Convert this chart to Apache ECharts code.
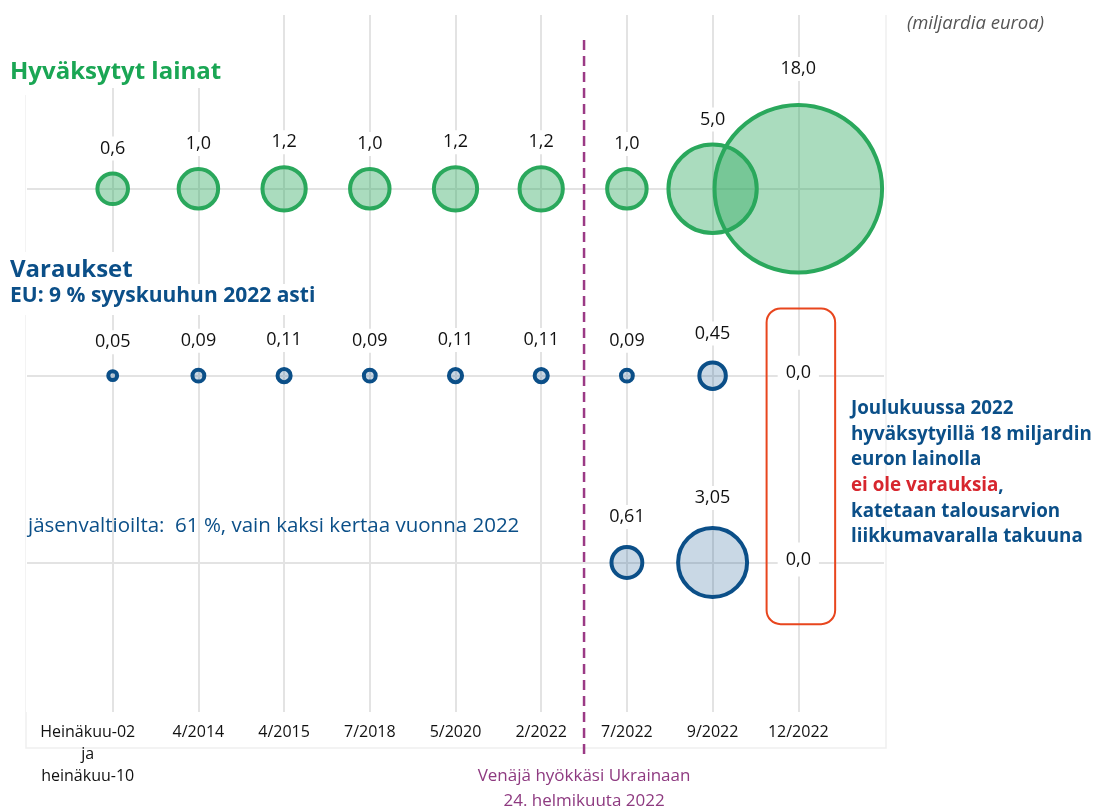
<!DOCTYPE html>
<html>
<head>
<meta charset="utf-8">
<script src="https://cdn.jsdelivr.net/npm/echarts@6/dist/echarts.min.js"></script>
<style>
  html, body { margin: 0; padding: 0; background: #fff; }
  #main { width: 1099px; height: 810px; }
</style>
</head>
<body>
<div id="main"></div>
<script>
// aineisto
var categories = ['Heinäkuu-02\nja\nheinäkuu-10', '4/2014', '4/2015', '7/2018', '5/2020', '2/2022', '7/2022', '9/2022', '12/2022'];
var loans = [0.6, 1.0, 1.2, 1.0, 1.2, 1.2, 1.0, 5.0, 18.0];
var euReserves = [0.05, 0.09, 0.11, 0.09, 0.11, 0.11, 0.09, 0.45, 0.0];
var memberReserves = [null, null, null, null, null, null, 0.61, 3.05, 0.0];
var rowY = { loans: 3, eu: 2, member: 1 };

var FONT = 'Open Sans';
var GREEN = '#2aa85c';
var BLUE = '#0b4f88';
var SCALE = 39.5;

function fmt1(v) { return v.toFixed(1).replace('.', ','); }
function fmt2(v) { return v === 0 ? '0,0' : v.toFixed(2).replace('.', ','); }

// nolla-arvon tunnus: näkymätön pikkupallo, luku valkoisella pohjalla
var zeroLabel = { position: 'inside', offset: [0, -3], padding: [4, 8, 12, 8] };
var zeroItem = { color: 'rgba(0,0,0,0)', borderWidth: 0 };

function build(values, y) {
    var out = [];
    values.forEach(function (v, i) {
        if (v === null) return;
        var item = { value: [i, y, v] };
        if (v === 0) { item.label = zeroLabel; item.itemStyle = zeroItem; }
        if (v >= 10) item.label = { distance: 22 };
        out.push(item);
    });
    return out;
}

function sizeOf(d) { return Math.max(SCALE * Math.sqrt(d[2]), 2); }

var myChart = echarts.init(document.getElementById('main'));

var labelBase = {
    show: true,
    position: 'top',
    fontFamily: FONT,
    fontSize: 18,
    color: '#111',
    backgroundColor: '#fff',
    textBorderWidth: 0,
    opacity: 1,
    padding: [3, 4]
};

var option = {
    animation: false,
    textStyle: { fontFamily: FONT },
    title: [
        {
            text: 'Hyväksytyt lainat', left: 4, top: 15,
            padding: [45, 8, 4, 6], backgroundColor: '#fff',
            textStyle: { fontFamily: FONT, fontSize: 24, fontWeight: 'bold', color: '#1aa654' }
        },
        {
            text: 'Varaukset', left: 4, top: 252,
            padding: [6, 6, 2, 6], backgroundColor: '#fff',
            textStyle: { fontFamily: FONT, fontSize: 24, fontWeight: 'bold', color: BLUE }
        },
        {
            text: 'EU: 9 % syyskuuhun 2022 asti', left: 4, top: 284,
            padding: [2, 6, 8, 6], backgroundColor: '#fff',
            textStyle: { fontFamily: FONT, fontSize: 21, fontWeight: 'bold', color: BLUE }
        },
        {
            text: 'jäsenvaltioilta:  61 %, vain kaksi kertaa vuonna 2022', left: 22, top: 510,
            padding: [6, 6, 6, 6],
            textStyle: { fontFamily: FONT, fontSize: 20.5, fontWeight: 'normal', color: BLUE }
        },
        {
            text: '(miljardia euroa)', right: 50, top: 9,
            textStyle: { fontFamily: FONT, fontSize: 18.5, fontStyle: 'italic', fontWeight: 'normal', color: '#555' }
        },
        {
            text: 'Joulukuussa 2022\nhyväksytyillä 18 miljardin\neuron lainolla\n{r|ei ole varauksia},\nkatetaan talousarvion\nliikkumavaralla takuuna',
            left: 846, top: 391,
            textStyle: {
                fontFamily: FONT, fontSize: 18.8, fontWeight: 'bold', color: BLUE, lineHeight: 25.6,
                rich: { r: { fontFamily: FONT, fontSize: 18.8, fontWeight: 'bold', color: '#d7262e', lineHeight: 25.6 } }
            }
        }
    ],
    grid: { left: 27, right: 215, top: 15, bottom: 98 },
    xAxis: {
        type: 'value', min: -1, max: 9, interval: 1,
        axisLine: { show: false }, axisTick: { show: false },
        splitLine: {
            show: true,
            lineStyle: { width: 2, color: ['#ffffff', '#e3e3e3', '#e3e3e3', '#e3e3e3', '#e3e3e3', '#e3e3e3', '#e3e3e3', '#e3e3e3', '#e3e3e3', '#e3e3e3'] }
        },
        axisLabel: {
            margin: 9, fontFamily: FONT, fontSize: 16, color: '#111', lineHeight: 22,
            formatter: function (v) {
                var t = categories[v] || '';
                if (v === 0) {
                    return t.split('\n').map(function (s) { return '{f|' + s + '}'; }).join('\n');
                }
                return t;
            },
            rich: { f: { fontFamily: FONT, fontSize: 16, color: '#111', lineHeight: 22, padding: [0, 50, 0, 0] } }
        }
    },
    yAxis: {
        type: 'value', min: 0.2, max: 3.93, show: false, splitLine: { show: false }
    },
    series: [
        {
            // rivien vaakaviivat (markLine on oletuksena pallojen päällä, siksi z: 1)
            type: 'scatter', name: 'rivit', z: 1, silent: true, data: [],
            markLine: {
                z: 1, silent: true, symbol: 'none', label: { show: false },
                lineStyle: { color: '#e3e3e3', width: 2, type: 'solid', opacity: 1 },
                data: [{ yAxis: rowY.loans }, { yAxis: rowY.eu }, { yAxis: rowY.member }]
            }
        },
        {
            type: 'scatter', name: 'Hyväksytyt lainat', z: 3,
            data: build(loans, rowY.loans),
            symbolSize: sizeOf,
            itemStyle: { opacity: 1, color: 'rgba(42,168,92,0.4)', borderColor: GREEN, borderWidth: 4 },
            label: Object.assign({}, labelBase, { distance: 11, formatter: function (p) { return fmt1(p.value[2]); } })
        },
        {
            type: 'scatter', name: 'EU', z: 3,
            data: build(euReserves, rowY.eu),
            symbolSize: sizeOf,
            itemStyle: { opacity: 1, color: 'rgba(11,79,136,0.22)', borderColor: BLUE, borderWidth: 4 },
            label: Object.assign({}, labelBase, { distance: 15, formatter: function (p) { return fmt2(p.value[2]); } })
        },
        {
            type: 'scatter', name: 'Jäsenvaltiot', z: 3,
            data: build(memberReserves, rowY.member),
            symbolSize: sizeOf,
            itemStyle: { opacity: 1, color: 'rgba(11,79,136,0.22)', borderColor: BLUE, borderWidth: 4 },
            label: Object.assign({}, labelBase, { distance: 16, formatter: function (p) { return fmt2(p.value[2]); } })
        }
    ]
};

myChart.setOption(option);

// koristeet: kehys, hyökkäysviiva ja punainen laatikko
var tl = myChart.convertToPixel({ gridIndex: 0 }, [-1, 3.93]);
var br = myChart.convertToPixel({ gridIndex: 0 }, [9, 0.2]);
var warX = myChart.convertToPixel({ gridIndex: 0 }, [5.5, 0])[0];
var boxA = myChart.convertToPixel({ gridIndex: 0 }, [7.63, 2.36]);
var boxB = myChart.convertToPixel({ gridIndex: 0 }, [8.43, 0.67]);

myChart.setOption({
    graphic: [
        {
            type: 'polyline', z: -10, silent: true,
            shape: { points: [[tl[0] - 1, tl[1] + 80], [tl[0] - 1, br[1] + 36], [br[0] + 2, br[1] + 36], [br[0] + 2, tl[1]]] },
            style: { fill: null, stroke: '#f0f0f0', lineWidth: 1.5 }
        },
        {
            type: 'line', z: 50, silent: true,
            shape: { x1: warX, y1: 40, x2: warX, y2: 760 },
            style: { stroke: '#9b3a85', lineWidth: 2.5, lineDash: [10, 6] }
        },
        {
            type: 'text', z: 50, silent: true,
            x: warX, y: 764,
            style: {
                text: 'Venäjä hyökkäsi Ukrainaan\n24. helmikuuta 2022',
                fill: '#8e3a80', font: '17px "Open Sans"', align: 'center', verticalAlign: 'top', lineHeight: 25
            }
        },
        {
            type: 'rect', z: 50, silent: true,
            shape: { x: boxA[0], y: boxA[1], width: boxB[0] - boxA[0], height: boxB[1] - boxA[1], r: 14 },
            style: { fill: 'none', stroke: '#e8461e', lineWidth: 2 }
        }
    ]
});
</script>
</body>
</html>
